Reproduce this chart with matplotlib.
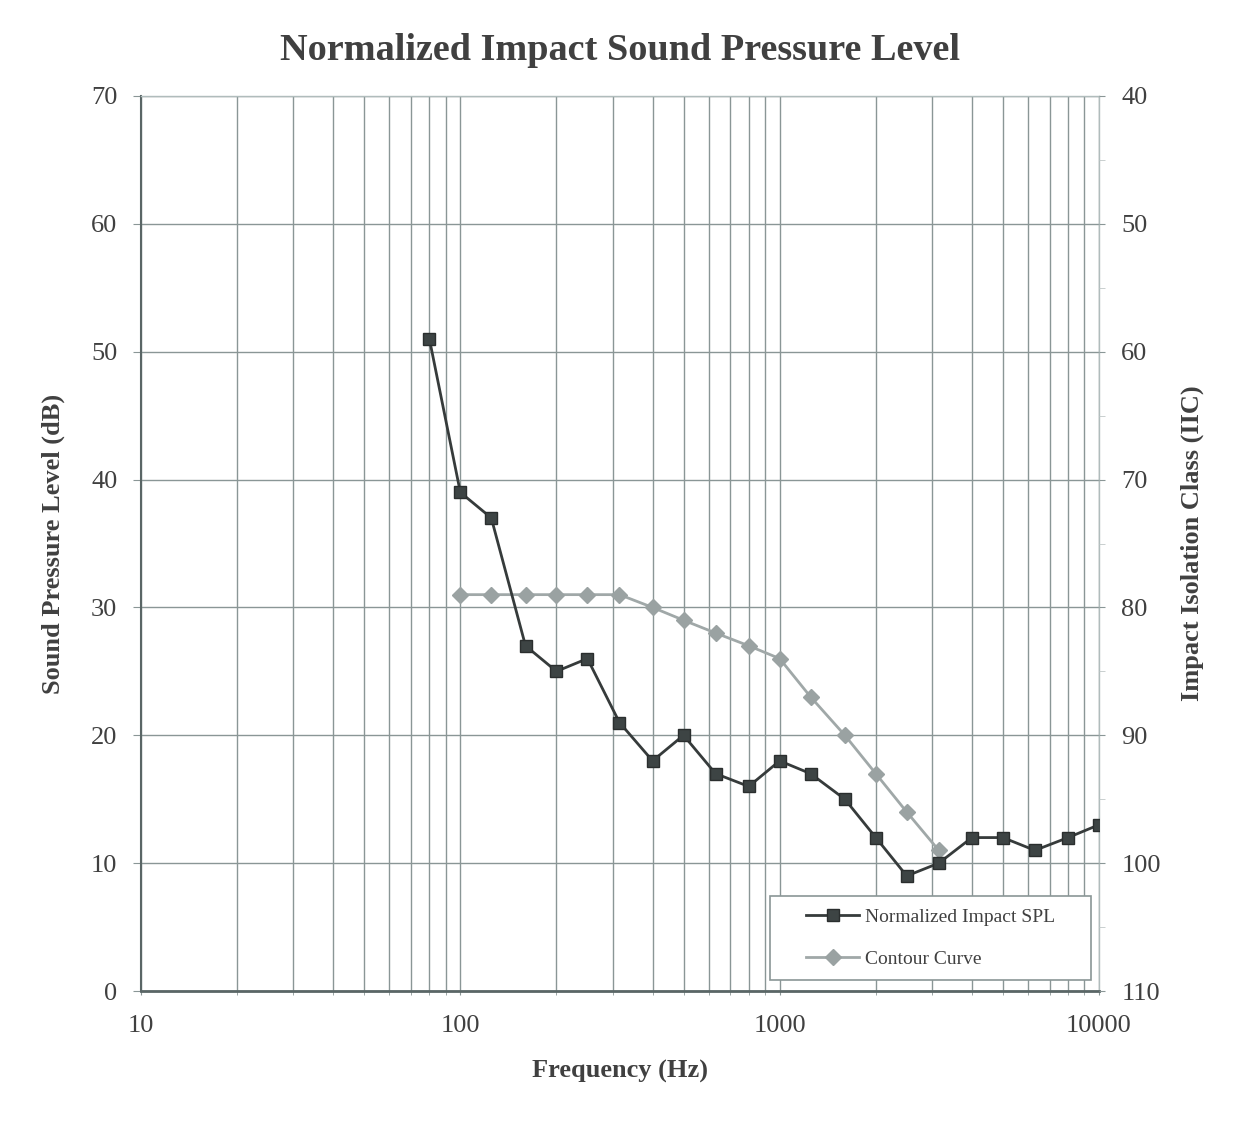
import matplotlib
matplotlib.use("Agg")
import matplotlib.pyplot as plt
from matplotlib.ticker import FixedLocator, NullFormatter, MultipleLocator
from matplotlib.patches import Rectangle

freq_spl = [80, 100, 125, 160, 200, 250, 315, 400, 500, 630, 800, 1000, 1250,
            1600, 2000, 2500, 3150, 4000, 5000, 6300, 8000, 10000]
spl = [51, 39, 37, 27, 25, 26, 21, 18, 20, 17, 16, 18, 17, 15, 12, 9, 10, 12,
       12, 11, 12, 13]
freq_contour = [100, 125, 160, 200, 250, 315, 400, 500, 630, 800, 1000, 1250,
                1600, 2000, 2500, 3150]
contour = [31, 31, 31, 31, 31, 31, 30, 29, 28, 27, 26, 23, 20, 17, 14, 11]
x_ticks = [10, 100, 1000, 10000]
left_ticks = [0, 10, 20, 30, 40, 50, 60, 70]
right_ticks = [40, 50, 60, 70, 80, 90, 100, 110]

plt.rcParams['font.family'] = ['Liberation Serif', 'DejaVu Serif']
txt = '#404040'
gridc = '#8a9696'

W, H = 1236, 1123
fig = plt.figure(figsize=(W / 100, H / 100), dpi=100)
ax = fig.add_axes([141 / W, 1 - 991 / H, (1099 - 141) / W, (991 - 96) / H])
ax.set_xscale('log')
ax.set_xlim(10, 10000)
ax.set_ylim(0, 70)
ax.set_yticks(left_ticks)
ax.xaxis.set_major_locator(FixedLocator(x_ticks))
minors = [m * d for d in [10, 100, 1000] for m in range(2, 10)]
ax.xaxis.set_minor_locator(FixedLocator(minors))
ax.xaxis.set_minor_formatter(NullFormatter())
ax.set_xticklabels([str(t) for t in x_ticks])
ax.grid(True, which='both', axis='x', color=gridc, lw=1.0)
ax.grid(True, which='major', axis='y', color=gridc, lw=1.0)
ax.set_axisbelow(True)
for s in ['top', 'right']:
    ax.spines[s].set_color('#b0bcbc')
    ax.spines[s].set_linewidth(1.0)
ax.spines['left'].set_color('#5a6666')
ax.spines['bottom'].set_color('#5a6666')
ax.spines['left'].set_linewidth(1.5)
ax.spines['bottom'].set_linewidth(2.0)
ax.tick_params(axis='y', which='major', length=6, color=gridc, labelsize=19,
               labelcolor=txt, pad=11)
ax.tick_params(axis='x', which='both', length=3, color=gridc, labelsize=19,
               labelcolor=txt, pad=14)

ax.plot(freq_spl, spl, color='#363b3b', lw=2.0, marker='s', ms=8.5,
        markerfacecolor='#3d4444', markeredgecolor='#2a2e2e',
        label='Normalized Impact SPL', zorder=4)
ax.plot(freq_contour, contour, color='#a0a8a8', lw=2.0, marker='D', ms=8,
        markerfacecolor='#9aa2a2', markeredgecolor='#9aa2a2',
        label='Contour Curve', zorder=3)

ax2 = ax.twinx()
ax2.set_ylim(110, 40)
ax2.set_yticks(right_ticks)
ax2.yaxis.set_minor_locator(MultipleLocator(5))
ax2.tick_params(axis='y', which='major', length=4, color=gridc, labelsize=19,
                labelcolor=txt, pad=12)
ax2.tick_params(axis='y', which='minor', length=4, color='#c0c8c8')
for s in ax2.spines.values():
    s.set_visible(False)

ax.set_title('Normalized Impact Sound Pressure Level', fontsize=27.5,
             fontweight='bold', color=txt, pad=26)
ax.set_xlabel('Frequency (Hz)', fontsize=19, fontweight='bold', color=txt, labelpad=17)
ax.set_ylabel('Sound Pressure Level (dB)', fontsize=19, fontweight='bold',
              color=txt, labelpad=19)
ax2.set_ylabel('Impact Isolation Class (IIC)', fontsize=19, fontweight='bold',
               color=txt, labelpad=14)

# legend box
bx0, bx1, by0, by1 = 770, 1091, 896, 980
ax0, ay0 = 141, 991
aw, ah = 958, 895
rect = Rectangle(((bx0 - ax0) / aw, (ay0 - by1) / ah), (bx1 - bx0) / aw,
                 (by1 - by0) / ah, transform=ax.transAxes, facecolor='white',
                 edgecolor='#8a9696', lw=1.2, zorder=5)
ax.add_patch(rect)
leg = ax.legend(loc='center',
                bbox_to_anchor=(((bx0 + bx1) / 2 - ax0) / aw, (ay0 - (by0 + by1) / 2) / ah),
                fontsize=14, frameon=False, borderpad=0.3, labelspacing=1.25,
                handlelength=2.7, handletextpad=0.3, labelcolor=txt)
leg.set_zorder(6)

fig.savefig('out.png', dpi=100, facecolor='white')
